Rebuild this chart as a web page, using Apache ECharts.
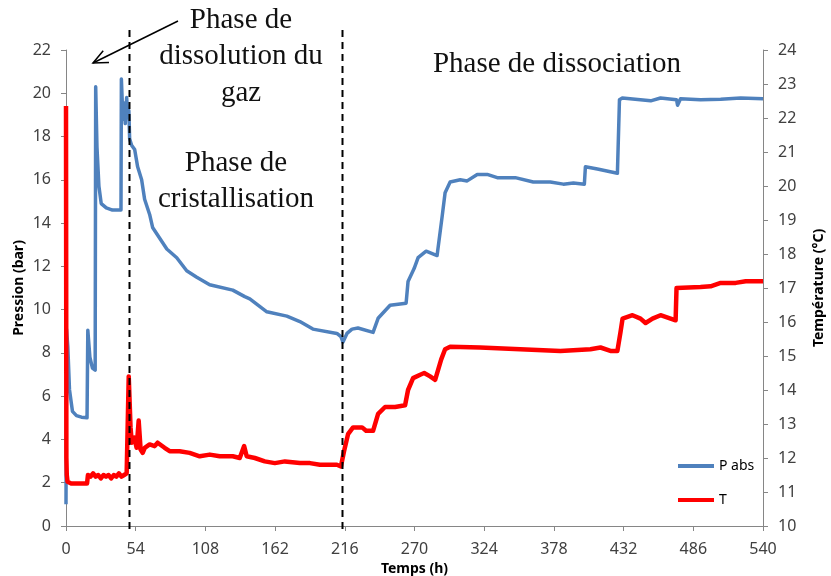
<!DOCTYPE html>
<html>
<head>
<meta charset="utf-8">
<script src="https://cdn.jsdelivr.net/npm/echarts@6/dist/echarts.min.js"></script>
<style>
  html, body { margin: 0; padding: 0; background: #fff; }
  #chart { width: 831px; height: 576px; }
</style>
</head>
<body>
<div id="chart"></div>
<script>
// Time axis (hours)
const xTicks = [0, 54, 108, 162, 216, 270, 324, 378, 432, 486, 540];

// Absolute pressure (bar) against time (h)
const pTime = [0, 0.4, 1.4, 2.7, 5.0, 8.1, 12, 16.3, 16.9, 18.5, 20.5, 22.6, 23.0, 24.0, 25.5, 27.3, 31.2, 36, 42.6,
  42.9, 44.1, 44.9, 45.9, 47.0, 48.0, 48.7, 49.3, 50.8, 53.2, 55.5, 58.6, 60.9, 64.8, 67.1, 72.6, 78.1, 85.8,
  93.5, 101.3, 111.3, 129.2, 138.5, 142.4, 155.6, 171.1, 181.2, 191.3, 209.9, 213.0, 214.6, 217.7, 221.6, 226.2,
  237.9, 241.8, 251.1, 263.5, 265.0, 269.7, 272.8, 279.0, 287.5, 291.4, 293.7, 297.6, 305.4, 310.8, 318.6, 326.3,
  334.1, 348.1, 362.0, 375.2, 385.3, 393.1, 401.6, 402.4, 411.7, 427.2, 428.8, 431, 453.0, 460.6, 473.0, 473.8,
  476.1, 491.6, 507.2, 522.7, 540];
const pValue = [1.0, 9.1, 8.3, 6.3, 5.3, 5.1, 5.03, 5.0, 9.05, 7.8, 7.3, 7.2, 20.3, 17.5, 15.7, 14.9, 14.7, 14.6, 14.6,
  20.66, 18.8, 19.55, 18.6, 19.8, 18.85, 19.2, 17.9, 17.6, 17.4, 16.6, 16.0, 15.1, 14.4, 13.8, 13.3, 12.8, 12.4,
  11.8, 11.5, 11.15, 10.9, 10.6, 10.5, 9.9, 9.7, 9.45, 9.1, 8.9, 8.75, 8.5, 8.9, 9.1, 9.15,
  8.95, 9.6, 10.2, 10.3, 11.3, 11.9, 12.4, 12.7, 12.5, 14.3, 15.4, 15.9, 16.0, 15.95, 16.25, 16.25,
  16.1, 16.1, 15.9, 15.9, 15.8, 15.85, 15.8, 16.6, 16.5, 16.3, 19.7, 19.78, 19.65, 19.78, 19.7, 19.45,
  19.75, 19.7, 19.72, 19.78, 19.75];

// Temperature (°C) against time (h)
const tTime = [0, 0.3, 0.6, 1.2, 4, 10, 16.3, 17, 19, 21, 23, 25, 27, 29, 31, 33, 35, 37, 39, 41, 43, 45, 47, 48.0,
  48.6, 50.0, 51.0, 53.0, 54.7, 56.3, 57.8, 59.4, 61.0, 64.8, 68.7, 71.0, 76.4, 80.3, 88, 95.8, 103.6, 111.4,
  119.1, 129.2, 134.6, 138.0, 140.0, 146.3, 154, 161.8, 169.6, 181.2, 189, 196.7, 209.9, 213.0, 215.4, 218.5,
  222.4, 229.4, 232.5, 237.9, 241.8, 247.2, 255, 262.7, 265, 268.9, 274.4, 277.5, 282.1, 286.0, 287.5, 290.7,
  293.7, 297.6, 320.9, 351.9, 383, 406.3, 414.1, 421.8, 427.2, 429.6, 431.2, 438.9, 445.1, 449, 454.4, 460.6,
  468.4, 472.3, 473.0, 491.6, 499.4, 507.2, 518.8, 526.6, 540];
const tValue = [22.35, 12.0, 11.5, 11.3, 11.25, 11.25, 11.25, 11.5, 11.45, 11.55, 11.45, 11.5, 11.4, 11.5, 11.45,
  11.5, 11.4, 11.5, 11.45, 11.55, 11.45, 11.5, 11.55, 11.6,
  14.4, 12.9, 12.45, 12.6, 12.3, 13.1, 12.25, 12.15, 12.3, 12.4, 12.35, 12.45, 12.3, 12.2, 12.2, 12.15, 12.05, 12.1,
  12.05, 12.05, 12.0, 12.35, 12.05, 12.0, 11.9, 11.85, 11.9, 11.85, 11.85, 11.8, 11.8, 11.75, 12.2, 12.7,
  12.9, 12.9, 12.8, 12.8, 13.3, 13.5, 13.5, 13.55, 14.0, 14.35, 14.45, 14.5, 14.4, 14.3, 14.3, 14.9,
  15.2, 15.27, 15.25, 15.2, 15.15, 15.2, 15.25, 15.15, 15.15, 15.7, 16.1, 16.2, 16.1, 15.97, 16.1, 16.2,
  16.1, 16.05, 17.0, 17.03, 17.05, 17.15, 17.15, 17.2, 17.2];

// Phase boundaries (h) and phase labels
const phaseBoundaries = [48.9, 213.8];
const phaseLabels = [
  { lines: ['Phase de', 'dissolution du', 'gaz'], x: 241, y: 20 },
  { lines: ['Phase de', 'cristallisation'], x: 236, y: 163 },
  { lines: ['Phase de dissociation'], x: 557, y: 64 }
];

const seriesNames = ['P abs', 'T'];

const pData = pTime.map((t, i) => [t, pValue[i]]);
const tData = tTime.map((t, i) => [t, tValue[i]]);

const axisGrey = '#868686';
const labelFont = { fontFamily: 'Noto Sans', fontSize: 16, color: '#404040' };
const titleFont = { fontFamily: 'Noto Sans', fontSize: 14, fontWeight: 'bold', color: '#000' };

const chart = echarts.init(document.getElementById('chart'), null, { renderer: 'canvas' });

chart.setOption({
  animation: false,
  backgroundColor: '#fff',
  grid: { left: 66, right: 68, top: 50, bottom: 50, outerBoundsMode: 'none', containLabel: false },
  legend: {
    orient: 'vertical',
    left: 678,
    top: 459,
    padding: 0,
    icon: 'rect',
    itemWidth: 36,
    itemHeight: 4,
    itemGap: 20,
    textStyle: { fontFamily: 'Noto Sans', fontSize: 14, color: '#000' },
    data: seriesNames
  },
  xAxis: {
    type: 'value',
    min: xTicks[0],
    max: xTicks[xTicks.length - 1],
    interval: 54,
    name: 'Temps (h)',
    nameLocation: 'middle',
    nameGap: 35,
    nameTextStyle: titleFont,
    axisLine: { lineStyle: { color: axisGrey, width: 1 } },
    axisTick: { show: true, length: 5, lineStyle: { color: axisGrey } },
    axisLabel: Object.assign({ margin: 15 }, labelFont),
    splitLine: { show: false }
  },
  yAxis: [
    {
      type: 'value',
      min: 0, max: 22, interval: 2,
      name: 'Pression (bar)',
      nameLocation: 'middle',
      nameRotate: 90,
      nameGap: 40,
      nameMoveOverlap: false,
      nameTextStyle: titleFont,
      axisLine: { show: true, lineStyle: { color: axisGrey, width: 1 } },
      axisTick: { show: true, length: 5, lineStyle: { color: axisGrey } },
      axisLabel: Object.assign({ margin: 15 }, labelFont),
      splitLine: { show: false }
    },
    {
      type: 'value',
      min: 10, max: 24, interval: 1,
      name: 'Température (°C)',
      nameLocation: 'middle',
      nameRotate: 90,
      nameGap: 49,
      nameTextStyle: titleFont,
      position: 'right',
      axisLine: { show: true, lineStyle: { color: axisGrey, width: 1 } },
      axisTick: { show: true, length: 5, lineStyle: { color: axisGrey } },
      axisLabel: Object.assign({ margin: 15 }, labelFont),
      splitLine: { show: false }
    }
  ],
  series: [
    {
      name: seriesNames[0],
      type: 'line',
      yAxisIndex: 0,
      data: pData,
      symbol: 'none',
      lineStyle: { color: '#4F81BD', width: 3.5, join: 'round' },
      itemStyle: { color: '#4F81BD' }
    },
    {
      name: seriesNames[1],
      type: 'line',
      yAxisIndex: 1,
      data: tData,
      symbol: 'none',
      lineStyle: { color: '#FF0000', width: 4.5, join: 'round' },
      itemStyle: { color: '#FF0000' }
    }
  ]
});

// Dashed phase boundaries, phase labels and the arrow pointing at the dissolution phase
const graphics = [];
phaseBoundaries.forEach(h => {
  const x = Math.round(chart.convertToPixel({ xAxisIndex: 0 }, h)) + 0.5;
  graphics.push({
    type: 'line',
    shape: { x1: x, y1: 30, x2: x, y2: 531 },
    style: { stroke: '#000', lineWidth: 2, lineDash: [7, 5] },
    z: 10
  });
});

const lineHeight = 36.5;
phaseLabels.forEach(lbl => {
  lbl.lines.forEach((txt, i) => {
    graphics.push({
      type: 'text',
      x: lbl.x,
      y: lbl.y + i * lineHeight,
      style: {
        text: txt,
        fill: '#111',
        font: '29px "Liberation Serif", serif',
        align: 'center',
        verticalAlign: 'middle'
      },
      z: 10
    });
  });
});

const tail = [178, 21], tip = [93, 63];
const ang = Math.atan2(tail[1] - tip[1], tail[0] - tip[0]);
const headLen = 16, spread = 0.42;
graphics.push({
  type: 'line',
  shape: { x1: tail[0], y1: tail[1], x2: tip[0], y2: tip[1] },
  style: { stroke: '#000', lineWidth: 1.5 },
  z: 10
});
graphics.push({
  type: 'polyline',
  shape: {
    points: [
      [tip[0] + headLen * Math.cos(ang + spread), tip[1] + headLen * Math.sin(ang + spread)],
      tip,
      [tip[0] + headLen * Math.cos(ang - spread), tip[1] + headLen * Math.sin(ang - spread)]
    ]
  },
  style: { stroke: '#000', lineWidth: 1.5, fill: null },
  z: 10
});

chart.setOption({ graphic: graphics });
</script>
</body>
</html>
